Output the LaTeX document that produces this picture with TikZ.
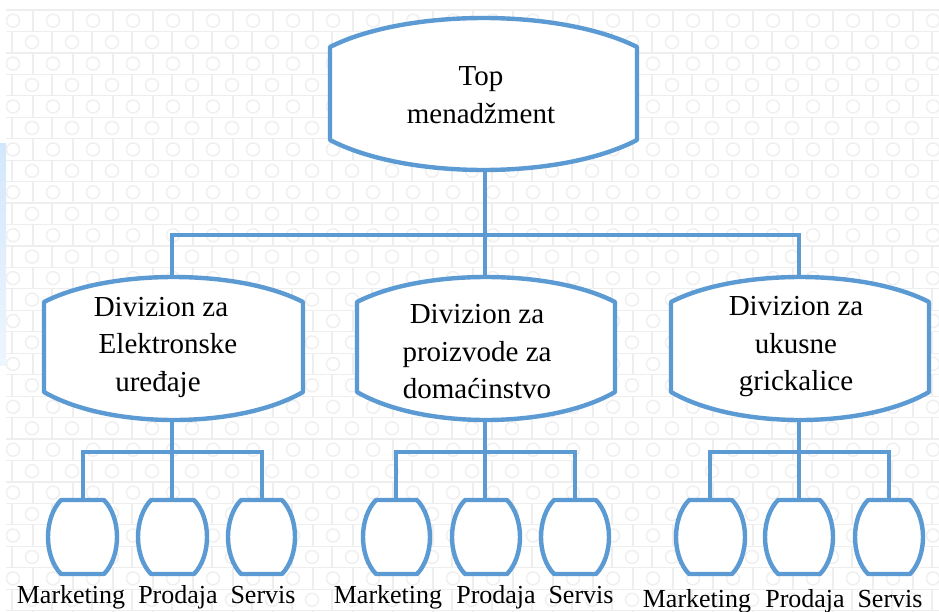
\documentclass[tikz,border=0pt]{standalone}
\usepackage{fontspec}
\setmainfont{Liberation Serif}
\definecolor{bluel}{HTML}{5B9AD2}
\definecolor{gridl}{HTML}{EEEEEE}
\definecolor{gridc}{HTML}{EFEFEF}
\definecolor{stripb}{HTML}{D3E7FC}
\tikzset{
  outl/.style={draw=bluel,line width=4.4pt,fill=white,line join=round},
  conn/.style={draw=bluel,line width=4pt},
  holder/.style={rectangle,draw=none,inner sep=0pt,outer sep=0pt},
  big/.style={font=\fontsize{29}{37.5}\selectfont,align=center,inner sep=0pt,anchor=center},
  small/.style={font=\fontsize{26}{30}\selectfont,inner sep=0pt,anchor=base}
}
% name, cx, L, R, T, B, S1, S2, text
\newcommand{\wideblob}[9]{%
  \pgfmathsetmacro{\qa}{(#3)+0.25*((#4)-(#3))}%
  \pgfmathsetmacro{\qb}{(#4)-0.25*((#4)-(#3))}%
  \pgfmathsetmacro{\qc}{(#7)-((#7)-(#5))*4/3}%
  \pgfmathsetmacro{\qd}{(#8)+((#6)-(#8))*4/3}%
  \path[outl] (#3,#7) .. controls (\qa,\qc) and (\qb,\qc) .. (#4,#7) -- (#4,#8)
     .. controls (\qb,\qd) and (\qa,\qd) .. (#3,#8) -- cycle;
  \pgfmathsetmacro{\qw}{2*((#2)-(#3))}%
  \pgfmathsetmacro{\qh}{(#6)-(#5)}%
  \pgfmathsetmacro{\qy}{((#6)+(#5))/2}%
  \node[holder,minimum width=\qw pt,minimum height=\qh pt] (#1) at (#2,\qy) {};
}
% name, cx, L, R
\newcommand{\smallblob}[4]{%
  \pgfmathsetmacro{\qa}{(#3)+13}%
  \pgfmathsetmacro{\qb}{(#4)-13}%
  \pgfmathsetmacro{\qc}{(#3)+13-13*4/3}%
  \pgfmathsetmacro{\qd}{(#4)-13+13*4/3}%
  \path[outl] (\qa,500) -- (\qb,500) .. controls (\qd,518) and (\qd,556) .. (\qb,574)
     -- (\qa,574) .. controls (\qc,556) and (\qc,518) .. (\qa,500) -- cycle;
  \pgfmathsetmacro{\qw}{2*((#2)-(#3))}%
  \node[holder,minimum width=\qw pt,minimum height=74pt] (#1) at (#2,537) {};
}
\begin{document}
\begin{tikzpicture}[x=1pt,y=-1pt]
\useasboundingbox (0,0) rectangle (939,611);
\fill[white] (0,0) rectangle (939,611);
\shade[top color=stripb,bottom color=stripb!40!white] (0,143) rectangle (6,365);
% patterned backdrop
\begin{scope}
  \clip (6,9) rectangle (939,611);
  \foreach \r in {0,...,28}{
    \pgfmathsetmacro{\ya}{10+21.45*\r}
    \pgfmathsetmacro{\yb}{\ya+21.45}
    \pgfmathsetmacro{\ym}{\ya+10.7}
    \pgfmathsetmacro{\off}{mod(\r,2)==0 ? 33 : 12}
    \pgfmathsetmacro{\cof}{mod(\r,2)==0 ? 13 : 32}
    \draw[gridl,line width=1.2pt] (0,\ya) -- (939,\ya);
    \foreach \k in {0,...,23}{
      \pgfmathsetmacro{\xv}{\off+40*\k}
      \pgfmathsetmacro{\xc}{\cof+40*\k}
      \draw[gridl,line width=1.2pt] (\xv,\ya) -- (\xv,\yb);
      \draw[gridc,line width=1.4pt] (\xc,\ym) circle[radius=6.5pt];
    }
  }
\end{scope}

\coordinate (busT) at (484.5,235);
\coordinate (bus1) at (172,452);
\coordinate (bus2) at (484.5,452);
\coordinate (bus3) at (798.5,452);

\wideblob{top}{484.5}{330}{637}{18}{170}{47}{140}{}
\wideblob{d1}{172}{44}{303}{277}{420}{302}{392}{}
\wideblob{d2}{484.5}{357}{615}{277}{420}{302}{392}{}
\wideblob{d3}{798.5}{671}{929}{277}{420}{302}{392}{}

\smallblob{m1}{83}{48}{117}
\smallblob{p1}{172}{138}{207}
\smallblob{s1}{262}{228}{295}
\smallblob{m2}{396}{363}{430}
\smallblob{p2}{484.5}{452}{520}
\smallblob{s2}{575}{541}{609}
\smallblob{m3}{710}{676}{745}
\smallblob{p3}{798.5}{765}{833}
\smallblob{s3}{889}{855}{923}

% connectors
\draw[conn] (top.south) -- (busT);
\draw[conn] (d1.north) |- (busT) -| (d3.north);
\draw[conn] (busT) -- (d2.north);
\draw[conn] (d1.south) -- (p1.north);
\draw[conn] (m1.north) |- (bus1) -| (s1.north);
\draw[conn] (d2.south) -- (p2.north);
\draw[conn] (m2.north) |- (bus2) -| (s2.north);
\draw[conn] (d3.south) -- (p3.north);
\draw[conn] (m3.north) |- (bus3) -| (s3.north);

% texts
\node[big] (ttop) at (481,95) {Top\\menadžment};
\node[big] (t1) at (158,347) {\hspace*{6pt}Divizion za\\\hspace*{20pt}Elektronske\\uređaje};
\node[big] (t2) at (477,352) {Divizion za\\proizvode za\\domaćinstvo};
\node[big] (t3) at (796,347) {Divizion za\\ukusne\\grickalice};

\node[small] (lm1) at (71,603) {Marketing};
\node[small] (lp1) at (178,603) {Prodaja};
\node[small] (ls1) at (263,603) {Servis};
\node[small] (lm2) at (388,603) {Marketing};
\node[small] (lp2) at (496,603) {Prodaja};
\node[small] (ls2) at (581,603) {Servis};
\node[small] (lm3) at (697,607) {Marketing};
\node[small] (lp3) at (805,607) {Prodaja};
\node[small] (ls3) at (890,607) {Servis};
\end{tikzpicture}
\end{document}
